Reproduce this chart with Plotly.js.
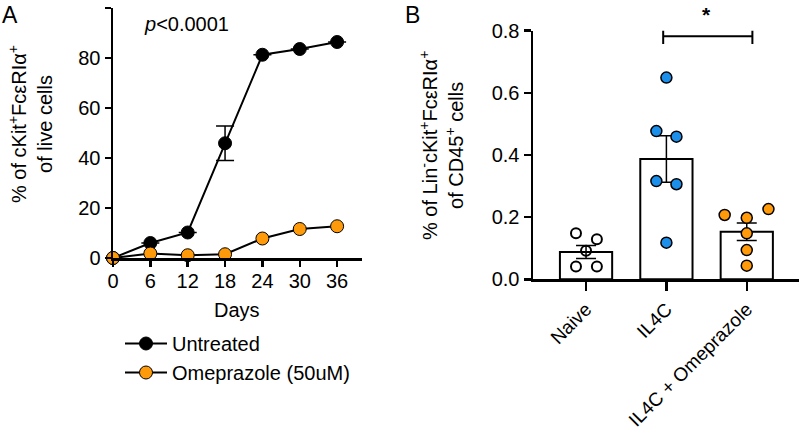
<!DOCTYPE html>
<html>
<head>
<meta charset="utf-8">
<script src="https://cdn.plot.ly/plotly-3.0.1.min.js"></script>
<style>html,body{margin:0;padding:0;background:#fff;}#chart{width:800px;height:432px;}</style>
</head>
<body>
<div id="chart"></div>
<script>
// Panel A: time course
const days = [0, 6, 12, 18, 24, 30, 36];
const untreated = [0, 6.0, 10.2, 45.9, 81.3, 83.6, 86.4];
// only the day-18 error bar is larger than the marker in the reference
const untreatedErr = [null, null, null, 6.9, null, null, null];
const omeprazole = [0, 1.8, 1.1, 1.5, 7.8, 11.6, 12.7];
const seriesNames = ["Untreated", "Omeprazole (50uM)"];

// Panel B: bar + points
const groups = ["Naive", "IL4C", "IL4C + Omeprazole"];
const barMeans = [0.088, 0.387, 0.153];
const barSem = [0.021, 0.075, 0.028];
const naivePts = [0.148, 0.129, 0.092, 0.041, 0.041];
const il4cPts = [0.649, 0.477, 0.459, 0.316, 0.306, 0.118];
const omepPts = [0.207, 0.226, 0.198, 0.148, 0.094, 0.044];
// horizontal scatter (jitter) offsets, in category units
const naiveJit = [-0.125, 0.135, 0, -0.125, 0.135];
const il4cJit = [0, -0.125, 0.125, -0.125, 0.125, 0];
const omepJit = [-0.275, 0.27, 0, 0, 0, 0];

const FONT = '"Liberation Sans", Arial, sans-serif';
const ORANGE = '#FF9A0A';
const BLUE = '#1C8FEA';
const FS = 20;

function jitterX(idx, jit) { return jit.map(j => idx + j); }

const traces = [
  {
    x: days, y: untreated, name: seriesNames[0], type: 'scatter', mode: 'lines+markers',
    xaxis: 'x', yaxis: 'y',
    line: {color: '#000', width: 2},
    marker: {color: '#000', size: 13, line: {color: '#000', width: 1}},
    error_y: {type: 'data', array: untreatedErr, color: '#000', thickness: 1.5, width: 9},
    cliponaxis: false
  },
  {
    x: days, y: omeprazole, name: seriesNames[1], type: 'scatter', mode: 'lines+markers',
    xaxis: 'x', yaxis: 'y',
    line: {color: '#000', width: 2},
    marker: {color: ORANGE, size: 13, line: {color: '#000', width: 1}},
    cliponaxis: false
  },
  {
    x: [0, 1, 2], y: barMeans, type: 'bar', xaxis: 'x2', yaxis: 'y2', showlegend: false,
    width: 0.65,
    marker: {color: '#fff', line: {color: '#000', width: 2}},
    error_y: {type: 'data', array: barSem, color: '#000', thickness: 1.5, width: 10}
  },
  {
    x: jitterX(0, naiveJit), y: naivePts, type: 'scatter', mode: 'markers', xaxis: 'x2', yaxis: 'y2', showlegend: false,
    marker: {color: 'rgba(255,255,255,0)', size: 10, line: {color: '#000', width: 2}}, cliponaxis: false
  },
  {
    x: jitterX(1, il4cJit), y: il4cPts, type: 'scatter', mode: 'markers', xaxis: 'x2', yaxis: 'y2', showlegend: false,
    marker: {color: BLUE, size: 11, line: {color: '#000', width: 1.5}}, cliponaxis: false
  },
  {
    x: jitterX(2, omepJit), y: omepPts, type: 'scatter', mode: 'markers', xaxis: 'x2', yaxis: 'y2', showlegend: false,
    marker: {color: ORANGE, size: 11, line: {color: '#000', width: 1.5}}, cliponaxis: false
  }
];

const W = 800, H = 432;
const px = v => v / W;
const py = v => (H - v) / H;

const axisCommon = {
  showgrid: false, zeroline: false, showline: true, linecolor: '#000', linewidth: 2.5,
  ticks: 'outside', tickcolor: '#000', tickwidth: 2.5,
  tickfont: {family: FONT, size: FS, color: '#000'}
};

const layout = {
  width: W, height: H,
  margin: {l: 0, r: 0, t: 0, b: 0},
  paper_bgcolor: '#fff', plot_bgcolor: '#fff',
  font: {family: FONT, color: '#000'},
  showlegend: true,
  legend: {
    x: px(120), y: py(324), xanchor: 'left', yanchor: 'top',
    font: {family: FONT, size: FS, color: '#000'},
    bgcolor: 'rgba(0,0,0,0)', tracegroupgap: 0, itemwidth: 42
  },
  xaxis: Object.assign({}, axisCommon, {
    domain: [px(113), px(362)], range: [0, 40], anchor: 'y',
    tickvals: days, ticklen: 6, ticklabelstandoff: -3
  }),
  yaxis: Object.assign({}, axisCommon, {
    domain: [py(258), py(8)], range: [0, 100], anchor: 'x',
    tickvals: [0, 20, 40, 60, 80, 100], ticklen: 6
  }),
  xaxis2: Object.assign({}, axisCommon, {
    domain: [px(533), px(799)], range: [-0.66, 2.65], anchor: 'y2',
    tickvals: [0, 1, 2], ticktext: groups, tickangle: -45, ticklen: 9,
    tickfont: {family: FONT, size: 19, color: '#000'}
  }),
  yaxis2: Object.assign({}, axisCommon, {
    domain: [py(279.3), py(30.7)], range: [0, 0.8], anchor: 'x2',
    tickvals: [0, 0.2, 0.4, 0.6, 0.8], ticktext: ['0.0', '0.2', '0.4', '0.6', '0.8'], ticklen: 7
  }),
  shapes: [
    {type: 'line', xref: 'x2', yref: 'y2', x0: 0.96, x1: 2.07, y0: 0.782, y1: 0.782, line: {color: '#000', width: 2}},
    {type: 'line', xref: 'x2', yref: 'y2', x0: 0.96, x1: 0.96, y0: 0.757, y1: 0.805, line: {color: '#000', width: 2}},
    {type: 'line', xref: 'x2', yref: 'y2', x0: 2.07, x1: 2.07, y0: 0.757, y1: 0.805, line: {color: '#000', width: 2}}
  ],
  annotations: [
    {text: 'A', xref: 'paper', yref: 'paper', x: px(0), y: py(0), xanchor: 'left', yanchor: 'top', showarrow: false, font: {family: FONT, size: 23}},
    {text: 'B', xref: 'paper', yref: 'paper', x: px(403), y: py(0), xanchor: 'left', yanchor: 'top', showarrow: false, font: {family: FONT, size: 23}},
    {text: '<i>p</i><0.0001', xref: 'paper', yref: 'paper', x: px(186), y: py(24), xanchor: 'center', yanchor: 'middle', showarrow: false, font: {family: FONT, size: FS}},
    {text: '% of cKit<sup>+</sup>FcεRIα<sup>+</sup><br>of live cells', xref: 'paper', yref: 'paper', x: px(30), y: py(124), xanchor: 'center', yanchor: 'middle', textangle: -90, showarrow: false, font: {family: FONT, size: FS}},
    {text: 'Days', xref: 'paper', yref: 'paper', x: px(237), y: py(310), xanchor: 'center', yanchor: 'middle', showarrow: false, font: {family: FONT, size: FS}},
    {text: '% of Lin<sup>-</sup>cKit<sup>+</sup>FcεRIα<sup>+</sup><br>of CD45<sup>+</sup> cells', xref: 'paper', yref: 'paper', x: px(442), y: py(146), xanchor: 'center', yanchor: 'middle', textangle: -90, showarrow: false, font: {family: FONT, size: FS}},
    {text: '<b>*</b>', xref: 'paper', yref: 'paper', x: px(706), y: py(14), xanchor: 'center', yanchor: 'middle', showarrow: false, font: {family: FONT, size: 21}}
  ]
};

Plotly.newPlot('chart', traces, layout, {displayModeBar: false, staticPlot: true});
</script>
</body>
</html>
